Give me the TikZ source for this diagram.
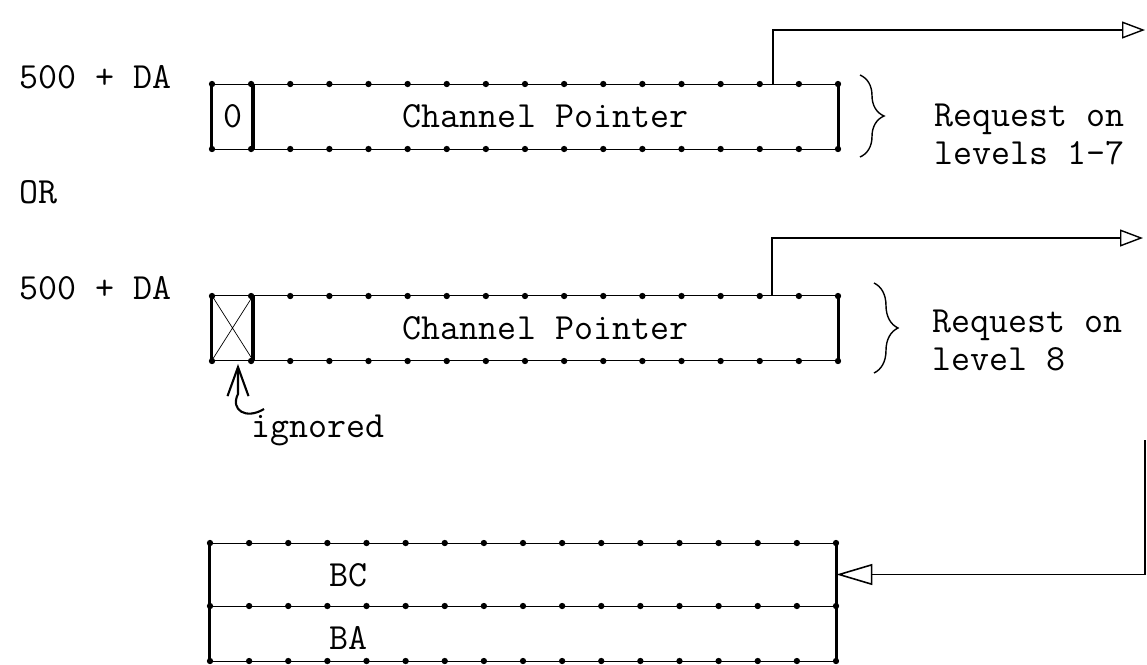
\documentclass[tikz,border=0pt]{standalone}
\usepackage{tikz}
\usetikzlibrary{positioning,arrows.meta,decorations.pathreplacing}

\begin{document}
\begin{tikzpicture}[
            x=0.02cm, y=-0.02cm,
            font=\fontsize{21pt}{21.6pt}\ttfamily,
            field/.style={
                draw,
                line width=0.5pt,
                inner sep=0pt,
                minimum height=1.3cm
            },
            wall/.style={line width=1.3pt},
            bit/.style={fill=black},
            link/.style={-{Triangle[open,length=0.46cm,width=0.34cm]}, line width=0.8pt},
            back/.style={-{Triangle[open,length=0.72cm,width=0.42cm]}, line width=0.9pt},
            hook/.style={-{Straight Barb[length=0.58cm,width=0.42cm]}, line width=1.2pt},
            brace/.style={decorate, decoration={brace, amplitude=0.48cm}, line width=0.8pt}
        ]
        \useasboundingbox (0,0) rectangle (1147,664);

        % Addresses on the left
        \node[anchor=west] (addrA) at (13,77) {500 + DA};
        \node[anchor=west] (orLbl) at (13,192) {OR};
        \node[anchor=west] (addrB) at (13,288) {500 + DA};

        % First word: request on levels 1-7
        \node[field, minimum width=0.82cm] (flagA) at (232.5,116.5) {0};
        \node[field, minimum width=11.7cm] (ptrA) at (545.5,116.5) {Channel Pointer};

        % Second word: request on level 8
        \node[field, minimum width=0.82cm] (flagB) at (232.5,328) {};
        \node[field, minimum width=11.7cm] (ptrB) at (545.5,328) {Channel Pointer};
        \draw (flagB.north west) -- (flagB.south east)
              (flagB.north east) -- (flagB.south west);

        % Buffer words
        \node[field, minimum width=12.52cm, minimum height=1.26cm] (bcCell) at (523,574.5) {};
        \node[field, minimum width=12.52cm, minimum height=1.1cm] (baCell) at (523,633.5) {};
        \node[anchor=west] (bcLbl) at (323,575) {BC};
        \node[anchor=west] (baLbl) at (323,638) {BA};

        % Heavy sides and bit marks
        \foreach \c in {flagA,ptrA,flagB,ptrB} {
            \draw[wall] (\c.north west) -- (\c.south west);
            \draw[wall] (\c.north east) -- (\c.south east);
        }
        \draw[wall] (bcCell.north west) -- (baCell.south west);
        \draw[wall] (bcCell.north east) -- (baCell.south east);
        \foreach \y in {84,149,296,361}
            \foreach \i in {0,...,16}
                \fill[bit] ({212+39.125*\i},\y) circle (1.8pt);
        \foreach \y in {543,606,661}
            \foreach \i in {0,...,16}
                \fill[bit] ({210+39.125*\i},\y) circle (1.8pt);

        % Braces and their texts
        \draw[brace] (860,75) -- (860,157);
        \node[anchor=west, align=left] (reqA) at (928,134) {Request on\\levels 1-7};
        \draw[brace] (874,283) -- (874,373);
        \node[anchor=west, align=left] (reqB) at (926,340) {Request on\\level 8};

        % Ignored bit
        \node[anchor=base west] (ignLbl) at (245,437) {ignored};
        \coordinate (curlEnd) at (264,409);
        \coordinate (ignTip) at (238,364);
        \draw[hook] (curlEnd) .. controls (246,420) and (230,410) .. (238,394) -- (ignTip);

        % Pointers out and back
        \coordinate (outA) at (1145,30);
        \coordinate (outB) at (1143,238);
        \coordinate (inC) at (1145,440);
        \draw[link] ([xshift=4.55cm]ptrA.north) |- (outA);
        \draw[link] ([xshift=4.53cm]ptrB.north) |- (outB);
        \draw[back] (inC) |- (bcCell.east);

        \end{tikzpicture}
\end{document}
